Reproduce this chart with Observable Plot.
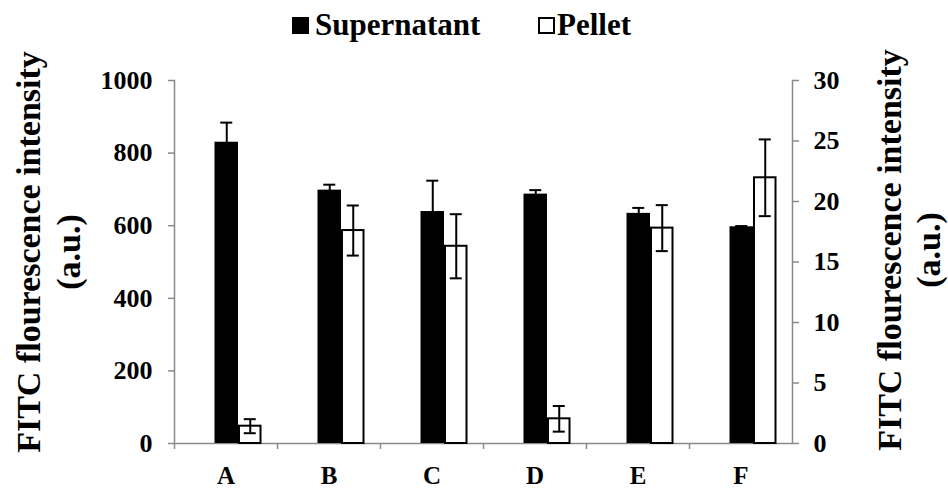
<!DOCTYPE html>
<html>
<head>
<meta charset="utf-8">
<script src="https://cdn.jsdelivr.net/npm/d3@7"></script>
<script src="https://cdn.jsdelivr.net/npm/@observablehq/plot@0.6"></script>
<style>
  html, body { margin: 0; padding: 0; background: #fff; }
  #wrap { width: 948px; position: relative; }
  #legend { position: relative; width: 948px; height: 46px; font-family: "Liberation Serif", "Times New Roman", serif; font-weight: bold; font-size: 31px; color: #000; }
  #legend .sw { position: absolute; box-sizing: border-box; width: 17px; height: 17px; top: 17px; }
  #legend .lab { position: absolute; top: 9px; line-height: 31px; white-space: nowrap; }
</style>
</head>
<body>
<div id="wrap">
  <div id="legend">
    <div class="sw" style="left:292px;background:#000;"></div>
    <div class="lab" style="left:315px;">Supernatant</div>
    <div class="sw" style="left:538px;background:#fff;border:2px solid #000;"></div>
    <div class="lab" style="left:557px;">Pellet</div>
  </div>
  <div id="chart"></div>
</div>
<script>
// ---- data ----
const categories = ["A", "B", "C", "D", "E", "F"];
const supernatant = [830, 698, 639, 687, 634, 597];
const supernatantErr = [54, 15, 85, 11, 15, 2];
const pellet = [1.43, 17.6, 16.3, 2.04, 17.8, 21.96];
const pelletErr = [0.58, 2.07, 2.65, 1.06, 1.9, 3.17];
const leftTicks = [0, 200, 400, 600, 800, 1000];
const rightTicks = [0, 5, 10, 15, 20, 25, 30];
const leftMax = 1000, rightMax = 30;
const axisTitle = ["FITC flourescence intensity", "(a.u.)"];

// ---- layout ----
const W = 948, H = 443, mL = 174, mR = 156, mT = 34, mB = 46;
const bw = (W - mL - mR) / categories.length;
const k = leftMax / rightMax;
const grey = "#8a8a8a";
const font = "'Liberation Serif', 'Times New Roman', serif";

const rows = categories.map((c, i) => ({
  cat: c,
  sup: supernatant[i], supErr: supernatantErr[i],
  pel: pellet[i] * k, pelErr: pelletErr[i] * k
}));

// bar geometry inside each category band (pixels from band start)
const supL = 40.5, supR = 64, pelL = 65, pelR = 86.5;
const supC = (supL + supR) / 2, pelC = (64 + 87.5) / 2, cap = 6;

const errMarks = (val, err, c) => [
  Plot.ruleX(rows, {x: "cat", y1: d => d[val] - d[err], y2: d => d[val] + d[err], dx: c - bw / 2, stroke: "black", strokeWidth: 2}),
  Plot.tickY(rows, {x: "cat", y: d => d[val] + d[err], insetLeft: c - cap, insetRight: bw - c - cap, stroke: "black", strokeWidth: 2}),
  Plot.tickY(rows, {x: "cat", y: d => d[val] - d[err], insetLeft: c - cap, insetRight: bw - c - cap, stroke: "black", strokeWidth: 2})
];

const chart = Plot.plot({
  width: W, height: H,
  marginLeft: mL, marginRight: mR, marginTop: mT, marginBottom: mB,
  style: {fontFamily: font, fontWeight: "bold", fontSize: "25px", color: "black", background: "white"},
  x: {domain: categories, paddingInner: 0, paddingOuter: 0, axis: null},
  y: {domain: [0, leftMax], axis: null},
  marks: [
    Plot.ruleY([0], {stroke: grey, strokeWidth: 1.5}),
    Plot.frame({anchor: "left", stroke: grey, strokeWidth: 1.5}),
    Plot.frame({anchor: "right", stroke: grey, strokeWidth: 1.5}),
    Plot.barY(rows, {x: "cat", y: "sup", fill: "black", insetLeft: supL, insetRight: bw - supR}),
    ...errMarks("sup", "supErr", supC),
    Plot.barY(rows, {x: "cat", y: "pel", fill: "white", stroke: "black", strokeWidth: 2, insetLeft: pelL, insetRight: bw - pelR}),
    ...errMarks("pel", "pelErr", pelC),
    Plot.axisY(leftTicks, {anchor: "left", tickSize: 6, tickPadding: 16, stroke: grey, strokeWidth: 1.5, fill: "black", tickFormat: d => String(d), fontSize: 26, label: null}),
    Plot.axisY(rightTicks.map(v => v * k), {anchor: "right", tickSize: 6, tickPadding: 15, stroke: grey, strokeWidth: 1.5, fill: "black", tickFormat: d => String(Math.round(d / k)), fontSize: 26, label: null}),
    Plot.axisX({anchor: "bottom", tickSize: 0, tickPadding: 23, fill: "black", fontSize: 25, label: null}),
    Plot.axisX({anchor: "bottom", tickSize: 6, tickFormat: () => "", stroke: grey, strokeWidth: 1.5, dx: -bw / 2, label: null}),
    Plot.text([axisTitle[0]], {frameAnchor: "left", rotate: -90, lineAnchor: "bottom", textAnchor: "middle", dx: -135, dy: -10, fontSize: 34, fontWeight: "bold", fill: "black"}),
    Plot.text([axisTitle[1]], {frameAnchor: "left", rotate: -90, lineAnchor: "bottom", textAnchor: "middle", dx: -95, dy: -10, fontSize: 34, fontWeight: "bold", fill: "black"}),
    Plot.text([axisTitle[0]], {frameAnchor: "right", rotate: -90, lineAnchor: "bottom", textAnchor: "middle", dx: 108, dy: -12, fontSize: 34, fontWeight: "bold", fill: "black"}),
    Plot.text([axisTitle[1]], {frameAnchor: "right", rotate: -90, lineAnchor: "bottom", textAnchor: "middle", dx: 147, dy: -12, fontSize: 34, fontWeight: "bold", fill: "black"})
  ]
});
document.getElementById("chart").appendChild(chart);
</script>
</body>
</html>
